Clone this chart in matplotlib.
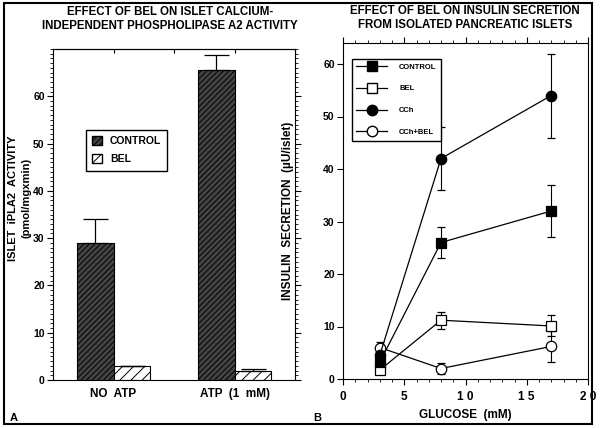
import matplotlib
matplotlib.use('Agg')
import matplotlib.pyplot as plt
from matplotlib.patches import Rectangle, Patch
from matplotlib.lines import Line2D
from matplotlib.ticker import MultipleLocator

plt.rcParams['font.family'] = ['Liberation Sans', 'DejaVu Sans']
plt.rcParams['font.weight'] = 'bold'
plt.rcParams['hatch.linewidth'] = 0.7

# panel A data
groups = ['NO  ATP', 'ATP  (1  mM)']
control_act = [29, 65.5]
control_err = [5, 3.3]
bel_act = [3, 2]
bel_err = [0, 0.4]

# panel B data
glucose = [3, 8, 17]
ctrl_ins = [3.2, 26, 32]
ctrl_ins_err = [0.5, 3, 5]
bel_ins = [1.7, 11.2, 10.1]
bel_ins_err = [0.5, 1.6, 2]
cch_ins = [4.5, 42, 54]
cch_ins_err = [0.5, 6, 8]
cchbel_ins = [6, 2, 6.2]
cchbel_ins_err = [1, 1, 3]

W, H = 600, 428
fig = plt.figure(figsize=(6, 4.28), dpi=100)
fig.patches.append(Rectangle((4 / W, 4 / H), 588 / W, 421 / H, transform=fig.transFigure,
                             fill=False, edgecolor='black', linewidth=1.5))

# ---------- panel A ----------
ax1 = fig.add_axes([53 / W, 48 / H, 242 / W, 331 / H])
xpos = [1, 3]
w = 0.6
ekw_bar = dict(ecolor='black', capsize=9, elinewidth=0.9, capthick=0.9)
ax1.bar([x - w / 2 for x in xpos], control_act, width=w,
        yerr=[[0] * len(control_err), control_err],
        color='#444444', edgecolor='black', hatch='//////', linewidth=0.8, error_kw=ekw_bar)
ax1.bar([x + w / 2 for x in xpos], bel_act, width=w,
        yerr=[[0] * len(bel_err), bel_err],
        color='white', edgecolor='black', hatch='///', linewidth=0.8, error_kw=ekw_bar)
ax1.set_xlim(0, 4)
ax1.set_ylim(0, 70)
ax1.set_xticks(xpos)
ax1.set_xticklabels(groups, fontsize=8.5, fontweight='bold')
ax1.tick_params(axis='x', length=0, pad=6)
ax1.set_yticks([0, 10, 20, 30, 40, 50, 60])
ax1.yaxis.set_minor_locator(MultipleLocator(1))
ax1.tick_params(axis='y', which='both', direction='out', right=True, labelsize=7.5, pad=2)
ax1.tick_params(axis='y', which='major', length=4)
ax1.tick_params(axis='y', which='minor', length=2.5, width=0.6)
for t in ax1.get_yticklabels():
    t.set_fontweight('bold')
sec1 = ax1.secondary_xaxis('top')
sec1.set_xticks([1, 2, 3, 4])
sec1.set_xticklabels([])
sec1.tick_params(direction='in', length=3)
ax1.set_ylabel('ISLET  iPLA2  ACTIVITY\n(pmol/mgxmin)', fontsize=8, fontweight='bold',
               linespacing=1.5)
ax1.yaxis.set_label_coords(-0.088, 0.55)
fig.text(170 / W, 1 - 19 / H, 'EFFECT OF BEL ON ISLET CALCIUM-\nINDEPENDENT PHOSPHOLIPASE A2 ACTIVITY',
         fontsize=8.3, fontweight='bold', ha='center', va='center', linespacing=1.3)
handles = [Patch(facecolor='#444444', edgecolor='black', hatch='//////', label='CONTROL'),
           Patch(facecolor='white', edgecolor='black', hatch='///', label='BEL')]
ax1.legend(handles=handles, loc='upper left', bbox_to_anchor=(0.115, 0.772),
           fancybox=False, edgecolor='black', framealpha=1,
           handlelength=0.9, handleheight=0.9, borderpad=0.6, labelspacing=0.8,
           prop={'weight': 'bold', 'size': 7.5})
fig.text(10 / W, 1 - 418 / H, 'A', fontsize=8, fontweight='bold', va='center')

# ---------- panel B ----------
ax2 = fig.add_axes([343 / W, 49 / H, 245 / W, 336 / H])
ekw = dict(color='black', linewidth=0.9, elinewidth=0.8, capsize=3, capthick=0.8, markersize=7.5,
           markeredgecolor='black', markeredgewidth=0.9)
ax2.errorbar(glucose, cchbel_ins, yerr=cchbel_ins_err, marker='o', markerfacecolor='white',
             zorder=3, **ekw)
ax2.errorbar(glucose, bel_ins, yerr=bel_ins_err, marker='s', markerfacecolor='white',
             zorder=3, **ekw)
ax2.errorbar(glucose, cch_ins, yerr=cch_ins_err, marker='o', markerfacecolor='black',
             zorder=3, **ekw)
ax2.errorbar(glucose, ctrl_ins, yerr=ctrl_ins_err, marker='s', markerfacecolor='black',
             zorder=4, **ekw)
ax2.set_xlim(0, 20)
ax2.set_ylim(0, 64)
ax2.set_xticks([0, 5, 10, 15, 20])
ax2.set_xticklabels(['0', '5', '1 0', '1 5', '2 0'], fontsize=8.5, fontweight='bold')
ax2.xaxis.set_minor_locator(MultipleLocator(1))
ax2.tick_params(axis='x', which='both', direction='out', top=True, pad=5)
ax2.tick_params(axis='x', which='major', length=4)
ax2.tick_params(axis='x', which='minor', length=2.5, width=0.6)
ax2.set_yticks([0, 10, 20, 30, 40, 50, 60])
ax2.tick_params(axis='y', direction='out', length=4, labelsize=7.5, pad=2)
for t in ax2.get_yticklabels():
    t.set_fontweight('bold')
ax2.set_xlabel('GLUCOSE  (mM)', fontsize=8.5, fontweight='bold', labelpad=4)
ax2.set_ylabel('INSULIN  SECRETION  (\u00b5U/islet)', fontsize=8.5, fontweight='bold')
ax2.yaxis.set_label_coords(-0.2, 0.5)
fig.text(465 / W, 1 - 18 / H, 'EFFECT OF BEL ON INSULIN SECRETION\nFROM ISOLATED PANCREATIC ISLETS',
         fontsize=8.3, fontweight='bold', ha='center', va='center', linespacing=1.3)
lh = [Line2D([], [], color='black', lw=0.9, marker='s', mfc='black', mec='black', ms=7.5),
      Line2D([], [], color='black', lw=0.9, marker='s', mfc='white', mec='black', ms=7.5),
      Line2D([], [], color='black', lw=0.9, marker='o', mfc='black', mec='black', ms=7.5),
      Line2D([], [], color='black', lw=0.9, marker='o', mfc='white', mec='black', ms=7.5)]
ax2.legend(lh, ['CONTROL', 'BEL', 'CCh', 'CCh+BEL'], loc='upper left', bbox_to_anchor=(0.02, 0.965),
           fancybox=False, edgecolor='black', framealpha=1, handlelength=4.0, handletextpad=1.6,
           borderpad=0.6, labelspacing=1.9, prop={'weight': 'bold', 'size': 5.5})
fig.text(313 / W, 1 - 418 / H, 'B', fontsize=8, fontweight='bold', va='center')

fig.savefig('out.png', dpi=100)
